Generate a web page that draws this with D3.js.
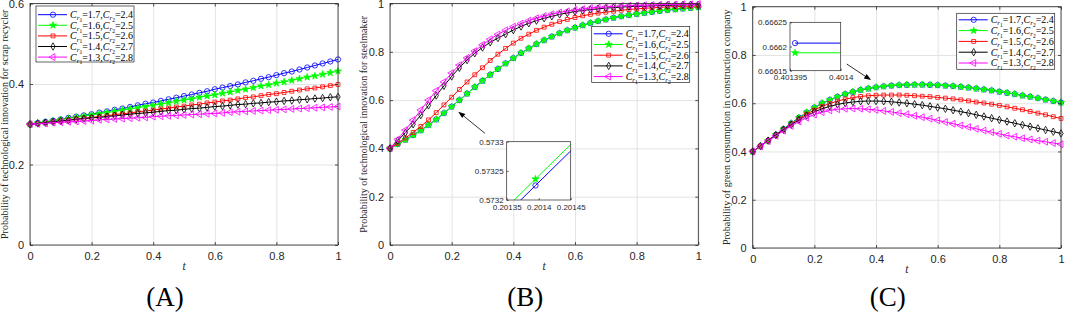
<!DOCTYPE html>
<html>
<head>
<meta charset="utf-8">
<script src="https://cdn.jsdelivr.net/npm/d3@7"></script>
<style>
  body { margin: 0; background: #fff; }
  svg { display: block; }
</style>
</head>
<body>
<svg id="chart" width="1065" height="314"></svg>
<script>
// time grid of the solver output
const tValues = [0,0.025,0.05,0.075,0.1,0.125,0.15,0.175,0.2,0.225,0.25,0.275,0.3,0.325,0.35,0.375,0.4,0.425,0.45,0.475,0.5,0.525,0.55,0.575,0.6,0.625,0.65,0.675,0.7,0.725,0.75,0.775,0.8,0.825,0.85,0.875,0.9,0.925,0.95,0.975,1];

const crOne = ["1.7", "1.6", "1.5", "1.4", "1.3"];
const crTwo = ["2.4", "2.5", "2.6", "2.7", "2.8"];

const xTicks = [0, 0.2, 0.4, 0.6, 0.8, 1];
const xTickLabels = ["0", "0.2", "0.4", "0.6", "0.8", "1"];
const yTicksA = [0, 0.2, 0.4, 0.6];
const yTickLabelsA = ["0", "0.2", "0.4", "0.6"];
const yTicksBC = [0, 0.2, 0.4, 0.6, 0.8, 1];
const yTickLabelsBC = ["0", "0.2", "0.4", "0.6", "0.8", "1"];

// (A) scrap recycler
const recyclerBlue = [0.300,0.303,0.306,0.309,0.312,0.316,0.319,0.322,0.325,0.329,0.332,0.336,0.339,0.343,0.347,0.351,0.354,0.358,0.362,0.366,0.370,0.374,0.378,0.382,0.387,0.391,0.395,0.399,0.404,0.408,0.413,0.417,0.422,0.427,0.431,0.436,0.441,0.446,0.451,0.456,0.461];
const recyclerGreen = [0.300,0.303,0.305,0.308,0.311,0.314,0.317,0.320,0.323,0.326,0.329,0.332,0.335,0.338,0.341,0.344,0.347,0.350,0.353,0.357,0.360,0.363,0.367,0.370,0.373,0.377,0.380,0.384,0.387,0.391,0.395,0.398,0.402,0.405,0.409,0.413,0.417,0.420,0.424,0.428,0.432];
const recyclerRed = [0.300,0.302,0.304,0.306,0.308,0.310,0.313,0.315,0.317,0.319,0.321,0.324,0.326,0.328,0.331,0.333,0.335,0.338,0.340,0.343,0.345,0.348,0.350,0.353,0.355,0.358,0.360,0.363,0.366,0.368,0.371,0.374,0.376,0.379,0.382,0.385,0.388,0.390,0.393,0.396,0.399];
const recyclerBlack = [0.300,0.302,0.304,0.306,0.308,0.310,0.312,0.314,0.316,0.317,0.319,0.321,0.323,0.325,0.327,0.328,0.330,0.332,0.334,0.335,0.337,0.339,0.340,0.342,0.344,0.345,0.347,0.349,0.350,0.352,0.353,0.355,0.356,0.358,0.359,0.361,0.362,0.364,0.365,0.367,0.368];
const recyclerMagenta = [0.300,0.301,0.302,0.304,0.305,0.306,0.307,0.308,0.309,0.311,0.312,0.313,0.314,0.315,0.316,0.317,0.319,0.320,0.321,0.322,0.323,0.324,0.325,0.326,0.327,0.328,0.330,0.331,0.332,0.333,0.334,0.335,0.336,0.337,0.338,0.339,0.340,0.341,0.342,0.343,0.344];

// (B) steelmaker
const steelBlue = [0.400,0.418,0.436,0.455,0.475,0.497,0.520,0.546,0.573,0.600,0.627,0.654,0.680,0.705,0.729,0.752,0.774,0.795,0.814,0.832,0.848,0.863,0.877,0.889,0.900,0.910,0.919,0.927,0.934,0.941,0.947,0.952,0.957,0.961,0.965,0.969,0.973,0.976,0.979,0.982,0.985];
const steelGreen = [0.400,0.418,0.436,0.455,0.475,0.497,0.520,0.546,0.573,0.600,0.627,0.654,0.680,0.705,0.729,0.752,0.774,0.795,0.814,0.832,0.848,0.863,0.877,0.889,0.900,0.910,0.919,0.927,0.934,0.941,0.947,0.952,0.957,0.961,0.965,0.969,0.973,0.976,0.979,0.982,0.985];
const steelRed = [0.400,0.421,0.443,0.466,0.491,0.518,0.548,0.580,0.612,0.644,0.675,0.705,0.734,0.764,0.790,0.814,0.836,0.856,0.873,0.889,0.902,0.914,0.925,0.934,0.942,0.949,0.955,0.960,0.964,0.968,0.972,0.975,0.978,0.980,0.982,0.984,0.986,0.987,0.988,0.989,0.990];
const steelBlack = [0.400,0.432,0.465,0.500,0.538,0.578,0.619,0.659,0.698,0.734,0.766,0.794,0.818,0.839,0.857,0.873,0.890,0.905,0.918,0.929,0.939,0.947,0.955,0.961,0.967,0.971,0.975,0.978,0.981,0.983,0.985,0.987,0.988,0.989,0.990,0.991,0.992,0.993,0.994,0.995,0.995];
const steelMagenta = [0.400,0.437,0.476,0.517,0.559,0.600,0.639,0.675,0.712,0.745,0.775,0.803,0.829,0.852,0.872,0.889,0.904,0.917,0.929,0.939,0.948,0.956,0.963,0.968,0.973,0.977,0.981,0.984,0.986,0.988,0.990,0.991,0.992,0.993,0.994,0.995,0.996,0.996,0.997,0.997,0.998];

// (C) construction company
const consumerBlue = [0.400,0.422,0.445,0.469,0.493,0.517,0.540,0.562,0.582,0.600,0.614,0.627,0.638,0.647,0.655,0.661,0.666,0.670,0.673,0.675,0.676,0.677,0.677,0.676,0.675,0.673,0.671,0.668,0.665,0.661,0.657,0.653,0.648,0.643,0.638,0.632,0.627,0.621,0.615,0.609,0.603];
const consumerGreen = [0.400,0.422,0.445,0.469,0.493,0.517,0.540,0.562,0.582,0.600,0.614,0.627,0.638,0.647,0.655,0.661,0.666,0.670,0.673,0.675,0.676,0.677,0.677,0.676,0.675,0.673,0.671,0.668,0.665,0.661,0.657,0.653,0.648,0.643,0.638,0.632,0.627,0.621,0.615,0.609,0.603];
const consumerRed = [0.400,0.422,0.445,0.468,0.491,0.514,0.535,0.555,0.572,0.587,0.599,0.609,0.617,0.623,0.628,0.631,0.633,0.634,0.634,0.634,0.633,0.631,0.629,0.627,0.624,0.621,0.618,0.614,0.610,0.605,0.601,0.596,0.591,0.585,0.579,0.573,0.566,0.559,0.552,0.544,0.537];
const consumerBlack = [0.400,0.422,0.445,0.468,0.490,0.511,0.531,0.549,0.564,0.577,0.587,0.595,0.601,0.605,0.608,0.609,0.609,0.608,0.606,0.603,0.600,0.596,0.592,0.587,0.582,0.577,0.571,0.565,0.559,0.552,0.545,0.538,0.531,0.524,0.517,0.510,0.503,0.496,0.489,0.482,0.475];
const consumerMagenta = [0.400,0.421,0.443,0.465,0.486,0.506,0.524,0.540,0.553,0.563,0.570,0.575,0.577,0.578,0.577,0.575,0.572,0.568,0.564,0.559,0.554,0.548,0.542,0.536,0.529,0.522,0.515,0.508,0.501,0.494,0.487,0.480,0.473,0.466,0.461,0.455,0.450,0.445,0.440,0.435,0.430];

// zoomed insets
const insetBT = [0.2013, 0.201395, 0.2015];
const insetBBlue = [0.573122, 0.573225, 0.573338];
const insetBGreen = [0.573133, 0.573236, 0.573349];
const insetBXTicks = [0.20135, 0.2014, 0.20145];
const insetBXLabels = ["0.20135", "0.2014", "0.20145"];
const insetBYTicks = [0.5732, 0.57325, 0.5733];
const insetBYLabels = ["0.5732", "0.57325", "0.5733"];

const insetCT = [0.4013955, 0.4014];
const insetCBlue = [0.666207, 0.666207];
const insetCGreen = [0.666187, 0.666187];
const insetCXTicks = [0.401395, 0.4014];
const insetCXLabels = ["0.401395", "0.4014"];
const insetCYTicks = [0.66615, 0.6662, 0.66625];
const insetCYLabels = ["0.66615", "0.6662", "0.66625"];

const colors = ["#0000ff", "#00ff00", "#ff0000", "#000000", "#ff00ff"];
const axisColor = "#262626";
const gridColor = "#e3e3e3";
const serif = "Liberation Serif, Times New Roman, serif";
const sans = "Liberation Sans, Arial, Helvetica, sans-serif";

const svg = d3.select("#chart");

const markerDefs = [
    {type: d3.symbolCircle, size: 22, fill: false, rot: 0},
    {type: d3.symbolStar, size: 15, fill: true, rot: 0},
    {type: d3.symbolSquare, size: 15, fill: false, rot: 0},
    {type: d3.symbolDiamond, size: 16, fill: false, rot: 0},
    {type: d3.symbolTriangle, size: 20, fill: false, rot: -90}
];

function addMarker(g, i, cx, cy) {
    const m = markerDefs[i];
    g.append("path")
        .attr("d", d3.symbol().type(m.type).size(m.size)())
        .attr("transform", `translate(${cx},${cy}) rotate(${m.rot})`)
        .attr("fill", m.fill ? colors[i] : "none")
        .attr("stroke", colors[i])
        .attr("stroke-width", 0.8);
}

function drawPanel(cfg) {
    const g = svg.append("g");
    const x = d3.scaleLinear().domain([0, 1]).range([cfg.left, cfg.right]);
    const y = d3.scaleLinear().domain(cfg.yDomain).range([cfg.bottom, cfg.top]);
    const h = cfg.bottom - cfg.top, w = cfg.right - cfg.left;

    // grid
    g.append("g")
        .attr("transform", `translate(0,${cfg.bottom})`)
        .call(d3.axisBottom(x).tickValues(xTicks).tickSize(-h).tickFormat(""))
        .call(s => { s.select(".domain").remove(); s.selectAll("line").attr("stroke", gridColor); });
    g.append("g")
        .attr("transform", `translate(${cfg.left},0)`)
        .call(d3.axisLeft(y).tickValues(cfg.yTicks).tickSize(-w).tickFormat(""))
        .call(s => { s.select(".domain").remove(); s.selectAll("line").attr("stroke", gridColor); });

    // series
    const line = d3.line().x((d, i) => x(tValues[i])).y(d => y(d));
    cfg.series.forEach((vals, k) => {
        g.append("path")
            .attr("d", line(vals))
            .attr("fill", "none")
            .attr("stroke", colors[k])
            .attr("stroke-width", 1);
        const mg = g.append("g");
        vals.forEach((v, i) => addMarker(mg, k, x(tValues[i]), y(v)));
    });

    // box and ticks
    g.append("rect")
        .attr("x", cfg.left).attr("y", cfg.top)
        .attr("width", w).attr("height", h)
        .attr("fill", "none").attr("stroke", axisColor).attr("stroke-width", 0.8);

    const styleAxis = s => {
        s.attr("font-family", sans);
        s.select(".domain").remove();
        s.selectAll("line").attr("stroke", axisColor).attr("stroke-width", 0.8);
        s.selectAll("text").attr("font-size", 11).attr("font-family", sans).attr("fill", axisColor);
    };
    g.append("g")
        .attr("transform", `translate(0,${cfg.bottom})`)
        .call(d3.axisBottom(x).tickValues(xTicks).tickSize(-3).tickPadding(7)
            .tickFormat((d, i) => xTickLabels[i]))
        .call(styleAxis);
    g.append("g")
        .attr("transform", `translate(0,${cfg.top})`)
        .call(d3.axisTop(x).tickValues(xTicks).tickSize(-3).tickFormat(""))
        .call(styleAxis);
    g.append("g")
        .attr("transform", `translate(${cfg.left},0)`)
        .call(d3.axisLeft(y).tickValues(cfg.yTicks).tickSize(-3).tickPadding(6)
            .tickFormat((d, i) => cfg.yLabels[i]))
        .call(styleAxis);
    g.append("g")
        .attr("transform", `translate(${cfg.right},0)`)
        .call(d3.axisRight(y).tickValues(cfg.yTicks).tickSize(-3).tickFormat(""))
        .call(styleAxis);

    // axis titles
    g.append("text")
        .attr("transform", `translate(${cfg.yTitleX},${(cfg.top + cfg.bottom) / 2}) rotate(-90)`)
        .attr("text-anchor", "middle")
        .attr("font-family", serif)
        .attr("font-size", 10)
        .attr("fill", axisColor)
        .text(cfg.yTitle);
    g.append("text")
        .attr("x", (cfg.left + cfg.right) / 2)
        .attr("y", cfg.bottom + 25)
        .attr("text-anchor", "middle")
        .attr("font-family", serif)
        .attr("font-style", "italic")
        .attr("font-size", 11.5)
        .attr("fill", axisColor)
        .text("t");
    g.append("text")
        .attr("x", (cfg.left + cfg.right) / 2 - 19)
        .attr("y", 306)
        .attr("text-anchor", "middle")
        .attr("font-family", serif)
        .attr("font-size", 27)
        .attr("fill", "#000")
        .text(cfg.tag);

    return {x, y};
}

function drawLegend(x0, y0, first, step) {
    const lg = svg.append("g").attr("transform", `translate(${x0},${y0})`);
    lg.append("rect")
        .attr("width", 98).attr("height", 56)
        .attr("fill", "#fff").attr("stroke", axisColor).attr("stroke-width", 0.7);
    crOne.forEach((c, i) => {
        const yy = first + i * step;
        lg.append("line")
            .attr("x1", 2).attr("x2", 31).attr("y1", yy).attr("y2", yy)
            .attr("stroke", colors[i]).attr("stroke-width", 1);
        addMarker(lg, i, 17, yy);
        const t = lg.append("text")
            .attr("x", 34).attr("y", yy + 3.5)
            .attr("font-family", serif).attr("font-size", 10).attr("fill", "#000");
        t.append("tspan").attr("font-style", "italic").text("C");
        t.append("tspan").attr("font-style", "italic").attr("font-size", 7).attr("dy", 2.2).text("r");
        t.append("tspan").attr("font-size", 5.5).attr("dy", 1.5).text("1");
        t.append("tspan").attr("dy", -3.7).text("=" + c + ",");
        t.append("tspan").attr("font-style", "italic").text("C");
        t.append("tspan").attr("font-style", "italic").attr("font-size", 7).attr("dy", 2.2).text("r");
        t.append("tspan").attr("font-size", 5.5).attr("dy", 1.5).text("2");
        t.append("tspan").attr("dy", -3.7).text("=" + crTwo[i]);
    });
}

function drawInset(cfg) {
    const g = svg.append("g");
    const w = cfg.right - cfg.left, h = cfg.bottom - cfg.top;
    const x = d3.scaleLinear().domain(cfg.xDomain).range([cfg.left, cfg.right]);
    const y = d3.scaleLinear().domain(cfg.yDomain).range([cfg.bottom, cfg.top]);
    g.append("rect")
        .attr("x", cfg.left).attr("y", cfg.top).attr("width", w).attr("height", h)
        .attr("fill", "#fff");
    const clipId = "clip" + cfg.id;
    svg.append("clipPath").attr("id", clipId)
        .append("rect").attr("x", cfg.left).attr("y", cfg.top).attr("width", w).attr("height", h);
    const inner = g.append("g").attr("clip-path", `url(#${clipId})`);
    const line = d3.line().x((d, i) => x(cfg.t[i])).y(d => y(d));
    cfg.series.forEach((vals, k) => {
        inner.append("path").attr("d", line(vals))
            .attr("fill", "none").attr("stroke", colors[k]).attr("stroke-width", 1);
        addMarker(g, k, x(cfg.t[cfg.markIdx]), y(vals[cfg.markIdx]));
    });
    g.append("rect")
        .attr("x", cfg.left).attr("y", cfg.top).attr("width", w).attr("height", h)
        .attr("fill", "none").attr("stroke", axisColor).attr("stroke-width", 0.7);
    const styleAxis = s => {
        s.attr("font-family", sans);
        s.select(".domain").remove();
        s.selectAll("line").attr("stroke", axisColor).attr("stroke-width", 0.7);
        s.selectAll("text").attr("font-size", 8).attr("font-family", sans).attr("fill", axisColor);
    };
    g.append("g").attr("transform", `translate(0,${cfg.bottom})`)
        .call(d3.axisBottom(x).tickValues(cfg.xTicks).tickSize(-2).tickPadding(4)
            .tickFormat((d, i) => cfg.xLabels[i]))
        .call(styleAxis);
    g.append("g").attr("transform", `translate(${cfg.left},0)`)
        .call(d3.axisLeft(y).tickValues(cfg.yTicks).tickSize(-2).tickPadding(3)
            .tickFormat((d, i) => cfg.yLabels[i]))
        .call(styleAxis);
}

function drawArrow(sc, from, to) {
    const x1 = sc.x(from[0]), y1 = sc.y(from[1]);
    const x2 = sc.x(to[0]), y2 = sc.y(to[1]);
    const ang = Math.atan2(y2 - y1, x2 - x1);
    const len = 7, half = 2.6;
    const bx = x2 - len * Math.cos(ang), by = y2 - len * Math.sin(ang);
    svg.append("line")
        .attr("x1", x1).attr("y1", y1).attr("x2", bx).attr("y2", by)
        .attr("stroke", "#000").attr("stroke-width", 0.8);
    svg.append("path")
        .attr("d", `M${x2},${y2}L${bx - half * Math.sin(ang)},${by + half * Math.cos(ang)}L${bx + half * Math.sin(ang)},${by - half * Math.cos(ang)}Z`)
        .attr("fill", "#000");
}

drawPanel({
    left: 30, right: 338, top: 3.5, bottom: 245,
    yDomain: [0, 0.6], yTicks: yTicksA, yLabels: yTickLabelsA,
    series: [recyclerBlue, recyclerGreen, recyclerRed, recyclerBlack, recyclerMagenta],
    yTitle: "Probability of technological innovation for scrap recycler", yTitleX: 8,
    tag: "(A)"
});
drawLegend(36, 6, 8.7, 10.6);

const scB = drawPanel({
    left: 390, right: 698.3, top: 3.5, bottom: 245,
    yDomain: [0, 1], yTicks: yTicksBC, yLabels: yTickLabelsBC,
    series: [steelBlue, steelGreen, steelRed, steelBlack, steelMagenta],
    yTitle: "Probability of technological innovation for steelmaker", yTitleX: 367,
    tag: "(B)"
});
drawLegend(591.7, 26.5, 7.3, 10.7);
drawArrow(scB, [0.308, 0.4625], [0.2215, 0.552]);
drawInset({
    id: "B", left: 506.7, right: 570.7, top: 141.7, bottom: 200,
    xDomain: [0.20135, 0.20145], yDomain: [0.5732, 0.5733],
    t: insetBT, series: [insetBBlue, insetBGreen], markIdx: 1,
    xTicks: insetBXTicks, xLabels: insetBXLabels, yTicks: insetBYTicks, yLabels: insetBYLabels
});

const scC = drawPanel({
    left: 752.7, right: 1061, top: 6.7, bottom: 248,
    yDomain: [0, 1], yTicks: yTicksBC, yLabels: yTickLabelsBC,
    series: [consumerBlue, consumerGreen, consumerRed, consumerBlack, consumerMagenta],
    yTitle: "Probability of green consumption in construction company", yTitleX: 730,
    tag: "(C)"
});
drawLegend(956.7, 13.3, 6.5, 10.8);
drawArrow(scC, [0.305, 0.7625], [0.384, 0.696]);
drawInset({
    id: "C", left: 790, right: 840.7, top: 22.3, bottom: 70.7,
    xDomain: [0.401395, 0.4014], yDomain: [0.66615, 0.66625],
    t: insetCT, series: [insetCBlue, insetCGreen], markIdx: 0,
    xTicks: insetCXTicks, xLabels: insetCXLabels, yTicks: insetCYTicks, yLabels: insetCYLabels
});
</script>
</body>
</html>
